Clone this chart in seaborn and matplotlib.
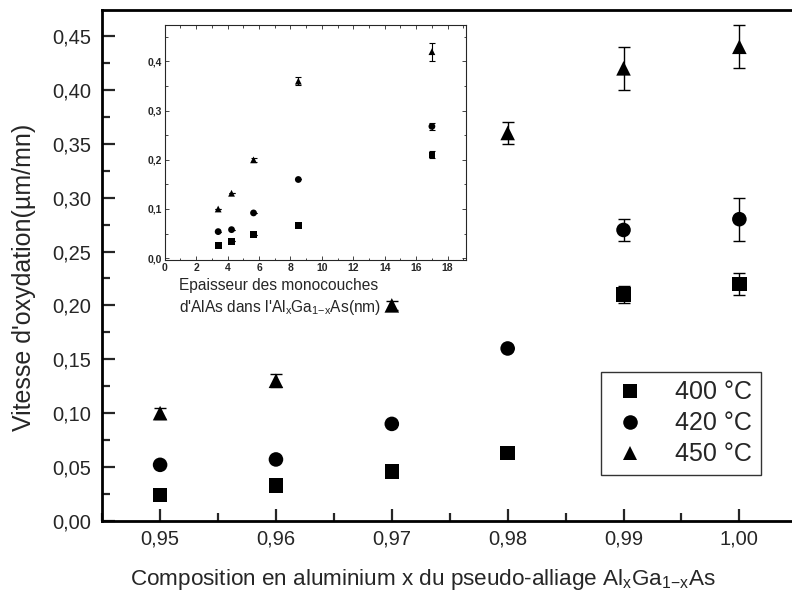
import matplotlib
matplotlib.use("Agg")
import matplotlib.pyplot as plt
from matplotlib.ticker import MultipleLocator, FuncFormatter
import seaborn as sns
import pandas as pd

# Vitesse d'oxydation vs composition x (main plot)
composition = [0.95, 0.96, 0.97, 0.98, 0.99, 1.00]
v400 = [0.024, 0.033, 0.046, 0.063, 0.210, 0.220]
v420 = [0.052, 0.057, 0.090, 0.160, 0.270, 0.280]
v450 = [0.100, 0.130, 0.200, 0.360, 0.420, 0.440]
e400 = [0.0, 0.0, 0.0, 0.0, 0.008, 0.010]
e420 = [0.0, 0.0, 0.0, 0.0, 0.010, 0.020]
e450 = [0.005, 0.006, 0.004, 0.010, 0.020, 0.020]

# inset: same rates vs AlAs monolayer thickness (nm)
epaisseur = [3.4, 4.25, 5.65, 8.5, 17.0]
i400 = [0.026, 0.034, 0.048, 0.066, 0.210]
i420 = [0.054, 0.058, 0.092, 0.160, 0.268]
i450 = [0.100, 0.132, 0.200, 0.360, 0.420]
ie400 = [0.0, 0.0, 0.0, 0.0, 0.007]
ie420 = [0.0, 0.0, 0.0, 0.0, 0.007]
ie450 = [0.0, 0.0, 0.004, 0.008, 0.018]

temps = ['400 °C', '420 °C', '450 °C']
markers = {'400 °C': 's', '420 °C': 'o', '450 °C': '^'}

main = pd.DataFrame({
    'x': composition * 3,
    'v': v400 + v420 + v450,
    'err': e400 + e420 + e450,
    'T': [t for t in temps for _ in composition],
})
inset = pd.DataFrame({
    'x': epaisseur * 3,
    'v': i400 + i420 + i450,
    'err': ie400 + ie420 + ie450,
    'T': [t for t in temps for _ in epaisseur],
})

sns.set_style('ticks')
plt.rcParams['font.family'] = ['Liberation Sans', 'DejaVu Sans']

fig = plt.figure(figsize=(7.92, 5.98), dpi=100)
ax = fig.add_axes([0.129, 0.129, 0.885, 0.854])

# error bars behind the markers
for t in temps:
    d = main[main['T'] == t]
    ax.errorbar(d['x'], d['v'], yerr=d['err'], fmt='none', ecolor='black',
                elinewidth=1, capsize=4, capthick=1, zorder=1)

sns.scatterplot(data=main, x='x', y='v', style='T', markers=markers,
                color='black', s=110, edgecolor='black', linewidth=0,
                ax=ax, zorder=3)

ax.set_xlim(0.945, 1.0055)
ax.set_ylim(0, 0.474)
ax.xaxis.set_major_locator(MultipleLocator(0.01))
ax.xaxis.set_minor_locator(MultipleLocator(0.005))
ax.yaxis.set_major_locator(MultipleLocator(0.05))
ax.yaxis.set_minor_locator(MultipleLocator(0.025))
ax.xaxis.set_major_formatter(FuncFormatter(lambda v, p: f'{v:.2f}'.replace('.', ',')))
ax.yaxis.set_major_formatter(FuncFormatter(lambda v, p: f'{v:.2f}'.replace('.', ',')))
ax.tick_params(which='major', direction='in', length=9, width=1.6, labelsize=14.5)
ax.tick_params(which='minor', direction='in', length=6, width=1.6)
ax.tick_params(axis='y', which='major', pad=8)
ax.tick_params(axis='x', which='major', pad=6)
for sp in ax.spines.values():
    sp.set_linewidth(2)
    sp.set_color('black')

ax.set_xlabel('Composition en aluminium x du pseudo-alliage Al$_\\mathregular{x}$Ga$_\\mathregular{1{-}x}$As',
              fontsize=16.2)
ax.set_ylabel("Vitesse d'oxydation(µm/mn)", fontsize=18)
ax.xaxis.set_label_coords(0.458, -0.09)
ax.yaxis.set_label_coords(-0.094, 0.477)

leg = ax.legend(title=None, loc='upper left', bbox_to_anchor=(0.712, 0.292),
                fontsize=18, frameon=True, fancybox=False, edgecolor='black',
                markerscale=1.0, handletextpad=1.0, borderpad=0.35,
                labelspacing=0.28, handlelength=1.6, borderaxespad=0)
leg.get_frame().set_linewidth(1)

# inset
axi = fig.add_axes([0.208, 0.565, 0.381, 0.393])
for t in temps:
    d = inset[inset['T'] == t]
    axi.errorbar(d['x'], d['v'], yerr=d['err'], fmt='none', ecolor='black',
                 elinewidth=0.8, capsize=2.5, capthick=0.8, zorder=1)
sns.scatterplot(data=inset, x='x', y='v', style='T', markers=markers,
                color='black', s=24, linewidth=0, ax=axi, legend=False, zorder=3)
axi.set_xlim(0, 19.2)
axi.set_ylim(-0.004, 0.474)
axi.xaxis.set_major_locator(MultipleLocator(2))
axi.xaxis.set_minor_locator(MultipleLocator(1))
axi.yaxis.set_major_locator(MultipleLocator(0.1))
axi.yaxis.set_minor_locator(MultipleLocator(0.05))
axi.yaxis.set_major_formatter(FuncFormatter(lambda v, p: f'{v:.1f}'.replace('.', ',')))
axi.tick_params(which='both', direction='in', top=True, right=True,
                labelsize=7.5, width=0.6, pad=2)
axi.tick_params(which='major', length=3)
axi.tick_params(which='minor', length=1.8)
for lab in axi.get_xticklabels() + axi.get_yticklabels():
    lab.set_fontweight('bold')
for sp in axi.spines.values():
    sp.set_linewidth(0.8)
axi.set_xlabel('')
axi.set_ylabel('')
axi.text(0.047, -0.075, 'Epaisseur des monocouches', transform=axi.transAxes,
         fontsize=11.2, va='top')
axi.text(0.047, -0.16, "d'AlAs dans l'Al$_\\mathregular{x}$Ga$_\\mathregular{1{-}x}$As(nm)",
         transform=axi.transAxes, fontsize=11.2, va='top')

fig.savefig('out.png', dpi=100)
